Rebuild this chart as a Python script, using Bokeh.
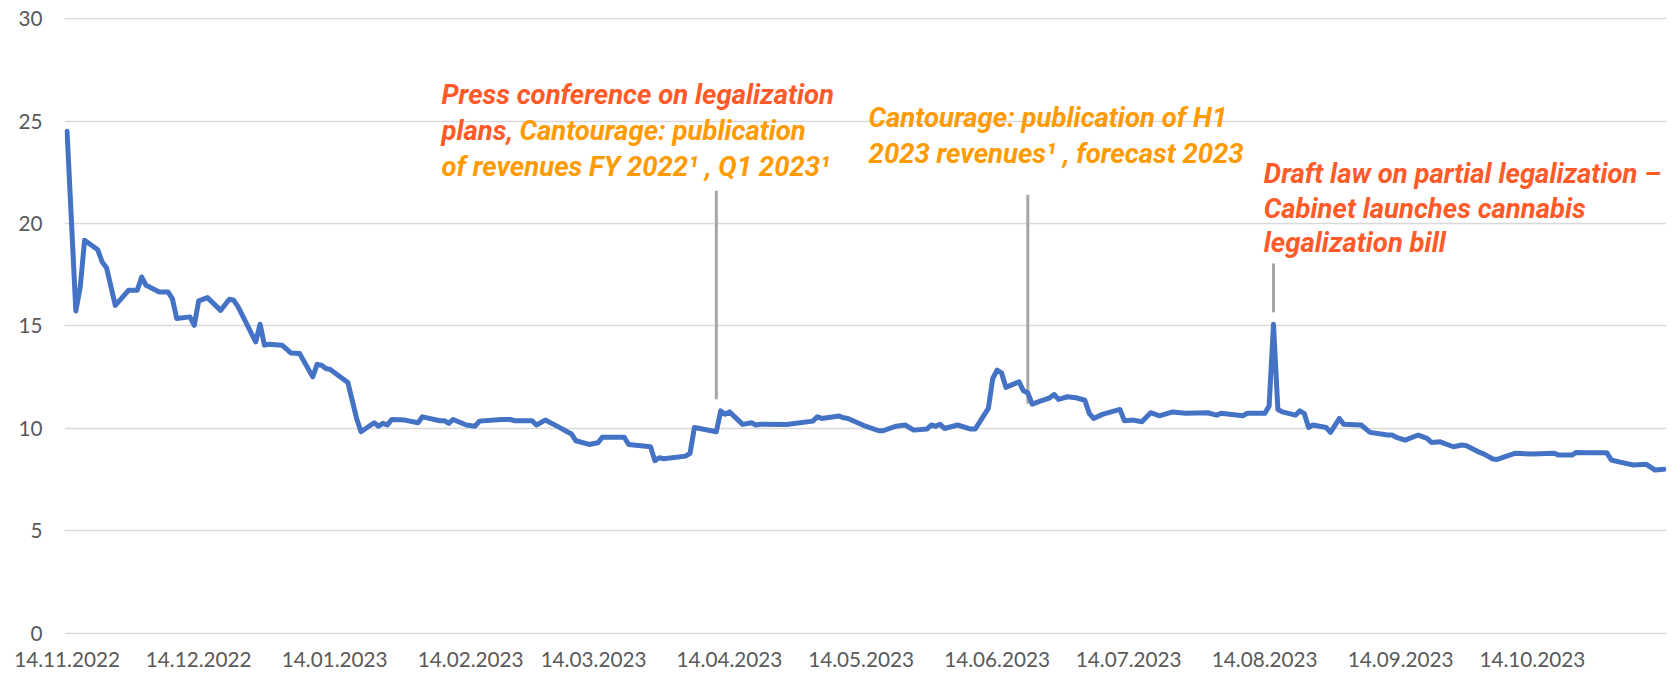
import pandas as pd
from bokeh.plotting import figure
from bokeh.models import Range1d, FixedTicker, DatetimeTickFormatter, Label
from bokeh.embed import file_html
from bokeh.resources import INLINE

# ---------------- data ----------------
dates = [
    "2022-11-14", "2022-11-16", "2022-11-17", "2022-11-18", "2022-11-21", "2022-11-22", "2022-11-23",
    "2022-11-25", "2022-11-28", "2022-11-30", "2022-12-01", "2022-12-02", "2022-12-05", "2022-12-07",
    "2022-12-08", "2022-12-09", "2022-12-12", "2022-12-13", "2022-12-14", "2022-12-16", "2022-12-19",
    "2022-12-21", "2022-12-22", "2022-12-23", "2022-12-27", "2022-12-28", "2022-12-29", "2022-12-30",
    "2023-01-02", "2023-01-04", "2023-01-06", "2023-01-09", "2023-01-10", "2023-01-11", "2023-01-12",
    "2023-01-13", "2023-01-17", "2023-01-19", "2023-01-20", "2023-01-23", "2023-01-24", "2023-01-25",
    "2023-01-26", "2023-01-27", "2023-01-30", "2023-02-02", "2023-02-03", "2023-02-07", "2023-02-08",
    "2023-02-09", "2023-02-10", "2023-02-13", "2023-02-15", "2023-02-16", "2023-02-21", "2023-02-23",
    "2023-02-24", "2023-02-28", "2023-03-01", "2023-03-03", "2023-03-06", "2023-03-08", "2023-03-09",
    "2023-03-10", "2023-03-13", "2023-03-15", "2023-03-16", "2023-03-21", "2023-03-22", "2023-03-27",
    "2023-03-28", "2023-03-29", "2023-03-30", "2023-04-04", "2023-04-05", "2023-04-06", "2023-04-11",
    "2023-04-12", "2023-04-13", "2023-04-14", "2023-04-17", "2023-04-19", "2023-04-20", "2023-04-21",
    "2023-04-27", "2023-05-03", "2023-05-04", "2023-05-05", "2023-05-09", "2023-05-10", "2023-05-11",
    "2023-05-15", "2023-05-18", "2023-05-19", "2023-05-22", "2023-05-24", "2023-05-26", "2023-05-29",
    "2023-05-30", "2023-05-31", "2023-06-01", "2023-06-02", "2023-06-05", "2023-06-08", "2023-06-09",
    "2023-06-12", "2023-06-13", "2023-06-14", "2023-06-15", "2023-06-16", "2023-06-19", "2023-06-20",
    "2023-06-21", "2023-06-22", "2023-06-24", "2023-06-26", "2023-06-27", "2023-06-28", "2023-06-30",
    "2023-07-02", "2023-07-04", "2023-07-05", "2023-07-06", "2023-07-08", "2023-07-12", "2023-07-13",
    "2023-07-15", "2023-07-17", "2023-07-19", "2023-07-21", "2023-07-24", "2023-07-27", "2023-08-01",
    "2023-08-03", "2023-08-04", "2023-08-09", "2023-08-10", "2023-08-14", "2023-08-15", "2023-08-16",
    "2023-08-17", "2023-08-18", "2023-08-21", "2023-08-22", "2023-08-23", "2023-08-24", "2023-08-25",
    "2023-08-28", "2023-08-29", "2023-08-31", "2023-09-01", "2023-09-05", "2023-09-07", "2023-09-11",
    "2023-09-12", "2023-09-13", "2023-09-15", "2023-09-18", "2023-09-20", "2023-09-21", "2023-09-23",
    "2023-09-26", "2023-09-28", "2023-09-29", "2023-10-02", "2023-10-03", "2023-10-05", "2023-10-06",
    "2023-10-10", "2023-10-14", "2023-10-19", "2023-10-20", "2023-10-23", "2023-10-24", "2023-10-27",
    "2023-10-31", "2023-11-01", "2023-11-03", "2023-11-06", "2023-11-09", "2023-11-11", "2023-11-13",
]
prices = [
    24.5, 15.73, 16.9, 19.18, 18.72, 18.12, 17.84,
    16.0, 16.74, 16.74, 17.39, 16.98, 16.66, 16.66,
    16.33, 15.36, 15.44, 15.03, 16.22, 16.38, 15.76,
    16.3, 16.25, 15.93, 14.22, 15.08, 14.06, 14.1,
    14.06, 13.68, 13.65, 12.51, 13.12, 13.08, 12.92,
    12.87, 12.24, 10.48, 9.83, 10.27, 10.1, 10.24,
    10.16, 10.43, 10.4, 10.27, 10.56, 10.37, 10.37,
    10.24, 10.43, 10.16, 10.1, 10.35, 10.43, 10.43,
    10.37, 10.37, 10.16, 10.4, 10.07, 9.83, 9.72,
    9.39, 9.21, 9.29, 9.56, 9.56, 9.21, 9.1,
    8.42, 8.56, 8.51, 8.64, 8.77, 10.04, 9.83,
    10.85, 10.69, 10.8, 10.19, 10.27, 10.16, 10.2,
    10.19, 10.35, 10.56, 10.48, 10.6, 10.51, 10.48,
    10.1, 9.88, 9.88, 10.1, 10.16, 9.91, 9.96,
    10.16, 10.1, 10.2, 9.99, 10.16, 9.96, 9.96,
    10.97, 12.43, 12.84, 12.71, 12.0, 12.27, 11.83,
    11.73, 11.18, 11.34, 11.49, 11.65, 11.41, 11.54,
    11.49, 11.37, 10.73, 10.48, 10.68, 10.92, 10.37,
    10.4, 10.32, 10.76, 10.61, 10.8, 10.73, 10.76,
    10.64, 10.73, 10.61, 10.73, 10.73, 11.08, 15.08,
    10.92, 10.8, 10.64, 10.85, 10.73, 10.04, 10.16,
    10.04, 9.8, 10.48, 10.2, 10.16, 9.8, 9.67,
    9.67, 9.56, 9.42, 9.67, 9.51, 9.31, 9.34,
    9.1, 9.18, 9.15, 8.82, 8.74, 8.5, 8.48,
    8.78, 8.74, 8.78, 8.69, 8.69, 8.82, 8.8,
    8.8, 8.45, 8.35, 8.21, 8.24, 7.96, 8.0,
]
tick_labels = ["14.11.2022", "14.12.2022", "14.01.2023", "14.02.2023", "14.03.2023", "14.04.2023",
               "14.05.2023", "14.06.2023", "14.07.2023", "14.08.2023", "14.09.2023", "14.10.2023"]
y_ticks = [0, 5, 10, 15, 20, 25, 30]

# events: date of marker, bottom and top of the marker line (price units)
event_dates = ["2023-04-11", "2023-06-21", "2023-08-16"]
event_low = [11.42, 11.2, 15.66]
event_high = [21.6, 21.4, 18.05]

RED = "#FF5A28"
ORANGE = "#FF9A00"
GREY_TXT = "#595959"

# ---------------- figure ----------------
x = pd.to_datetime(dates)
t0 = x[0] - pd.Timedelta(hours=14)
t1 = x[-1] + pd.Timedelta(hours=14)

p = figure(x_axis_type="datetime", width=1667, height=669,
           x_range=Range1d(t0, t1), y_range=Range1d(-0.07, 30.06),
           output_backend="svg", toolbar_location=None,
           min_border_left=64, min_border_right=1, min_border_top=17, min_border_bottom=34)
p.outline_line_color = None
p.background_fill_color = "white"
p.border_fill_color = "white"

p.xgrid.grid_line_color = None
p.ygrid.grid_line_color = "#D9D9D9"
p.ygrid.grid_line_width = 1.5

tick_ms = [pd.to_datetime(t, format="%d.%m.%Y").value // 10**6 for t in tick_labels]
p.xaxis.ticker = FixedTicker(ticks=tick_ms)
fmt = "%d.%m.%Y"
p.xaxis.formatter = DatetimeTickFormatter(milliseconds=fmt, seconds=fmt, minsec=fmt, minutes=fmt,
                                          hourmin=fmt, hours=fmt, days=fmt, months=fmt, years=fmt)
p.yaxis.ticker = FixedTicker(ticks=y_ticks)

for ax in (p.xaxis, p.yaxis):
    ax.axis_line_color = None
    ax.major_tick_line_color = None
    ax.minor_tick_line_color = None
    ax.major_tick_out = 0
    ax.major_tick_in = 0
    ax.minor_tick_out = 0
    ax.minor_tick_in = 0
    ax.major_label_text_font = "Lato"
    ax.major_label_text_font_size = "20.7px"
    ax.major_label_text_color = GREY_TXT
p.xaxis.major_label_standoff = 17
p.yaxis.major_label_standoff = 22

# marker lines
ev = pd.to_datetime(event_dates)
p.segment(x0=ev, y0=event_low, x1=ev, y1=event_high, line_color="#A6A6A6", line_width=3)

# price line
p.line(x=x, y=prices, line_color="#4472C4", line_width=5, line_join="round", line_cap="round")

# annotations
def ms(s):
    return pd.Timestamp(s).value // 10**6

def add_label(txt, when, yv, color):
    p.add_layout(Label(x=ms(when), y=yv, text=txt, text_color=color,
                       text_font="Roboto", text_font_style="bold italic",
                       text_font_size="27.5px", text_baseline="alphabetic", text_align="left"))

add_label("Press conference on legalization", "2023-02-07 08:00", 26.3, RED)
add_label("plans,", "2023-02-07 08:00", 24.54, RED)
add_label("Cantourage: publication", "2023-02-25 03:00", 24.54, ORANGE)
add_label("of revenues FY 2022¹ , Q1 2023¹", "2023-02-07 08:00", 22.79, ORANGE)

add_label("Cantourage: publication of H1", "2023-05-15 17:00", 25.17, ORANGE)
add_label("2023 revenues¹ , forecast 2023", "2023-05-15 17:00", 23.42, ORANGE)

add_label("Draft law on partial legalization –", "2023-08-13 19:00", 22.45, RED)
add_label("Cabinet launches cannabis", "2023-08-13 19:00", 20.74, RED)
add_label("legalization bill", "2023-08-13 19:00", 19.08, RED)

open("out.html", "w").write(file_html(p, INLINE))
